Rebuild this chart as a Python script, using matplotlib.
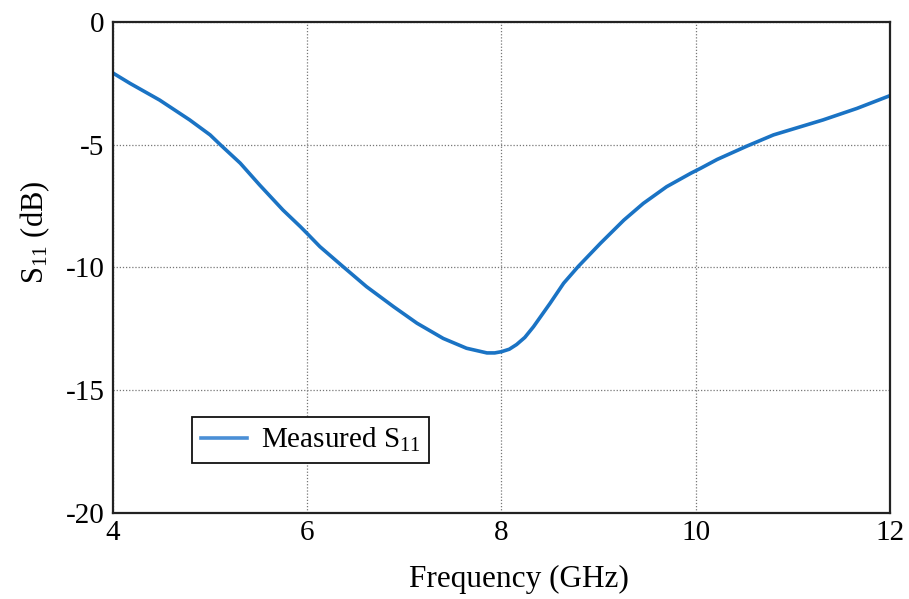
import matplotlib
matplotlib.use("Agg")
import matplotlib.pyplot as plt

plt.rcParams['font.family'] = ['Liberation Serif', 'DejaVu Serif']
plt.rcParams['mathtext.fontset'] = 'custom'
plt.rcParams['mathtext.rm'] = 'Liberation Serif'
plt.rcParams['mathtext.it'] = 'Liberation Serif'

# Measured reflection coefficient
freq_ghz = [4.0, 4.175, 4.48, 4.79, 5.0, 5.1, 5.31, 5.51, 5.75, 5.93, 6.0,
            6.13, 6.37, 6.61, 6.89, 7.13, 7.40, 7.64, 7.85, 7.93, 8.0, 8.08,
            8.155, 8.24, 8.33, 8.50, 8.64, 8.79, 9.02, 9.26, 9.46, 9.70, 9.95,
            10.05, 10.22, 10.53, 10.80, 11.31, 11.66, 12.0]
s11_db = [-2.08, -2.50, -3.18, -3.99, -4.60, -4.98, -5.75, -6.64, -7.66, -8.34,
          -8.62, -9.15, -9.97, -10.78, -11.6, -12.27, -12.89, -13.29, -13.48,
          -13.48, -13.43, -13.33, -13.14, -12.85, -12.41, -11.46, -10.64, -9.96,
          -9.01, -8.07, -7.39, -6.71, -6.16, -5.96, -5.6, -5.05, -4.6, -3.99,
          -3.52, -3.0]

x_ticks = [4, 6, 8, 10, 12]
y_ticks = [0, -5, -10, -15, -20]

fig = plt.figure(figsize=(9.09, 5.99), dpi=100)
ax = fig.add_axes([0.1243, 0.1436, 0.8548, 0.8197])

ax.plot(freq_ghz, s11_db, color='#1a73c4', lw=2.6, label='Measured S$_{11}$',
        solid_joinstyle='round')

ax.set_xlim(4, 12)
ax.set_ylim(-20, 0)
ax.set_xticks(x_ticks)
ax.set_yticks(y_ticks)
ax.set_yticklabels([str(v) for v in y_ticks])
ax.tick_params(length=0, labelsize=21)
ax.tick_params(axis='x', pad=5)
ax.tick_params(axis='y', pad=6)
ax.grid(True, color='#777777', linestyle=(0, (1, 1.5)), linewidth=0.9)
for sp in ax.spines.values():
    sp.set_linewidth(1.6)
    sp.set_color('#222222')

ax.set_xlabel('Frequency (GHz)', fontsize=22.5)
ax.set_ylabel('S$_{11}$ (dB)', fontsize=22)
ax.xaxis.set_label_coords(0.5225, -0.105)
ax.yaxis.set_label_coords(-0.079, 0.572)

leg = ax.legend(loc='lower left', bbox_to_anchor=(0.1017, 0.1018),
                borderaxespad=0, fontsize=21, fancybox=False, framealpha=1,
                handlelength=1.6, handletextpad=0.45, borderpad=0.3)
leg.get_frame().set_edgecolor('#111111')
leg.get_frame().set_linewidth(1.3)
leg.get_lines()[0].set_color('#4a8fd6')

fig.savefig('out.png', dpi=100)
